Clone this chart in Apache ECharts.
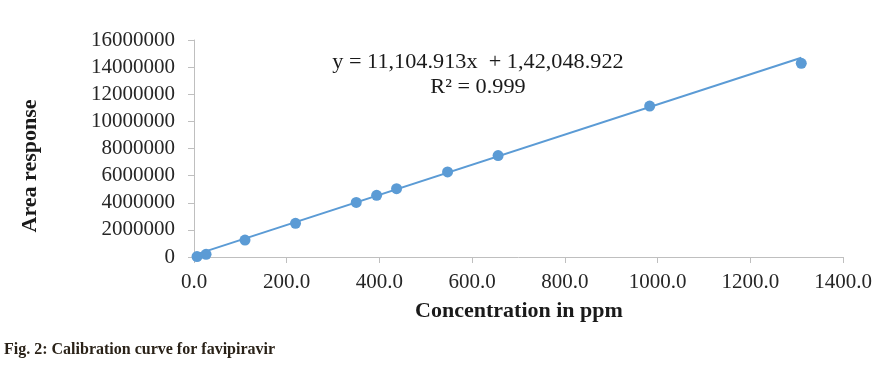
<!DOCTYPE html>
<html>
<head>
<meta charset="utf-8">
<script src="https://cdn.jsdelivr.net/npm/echarts@6/dist/echarts.min.js"></script>
<style>html,body{margin:0;padding:0;background:#fff}#c{width:881px;height:365px}</style>
</head>
<body>
<div id="c"></div>
<script>
// Data
var concentration = [6.5, 26, 110, 219, 350, 394, 437, 547, 656, 983, 1310];
var areaResponse = [30000, 200000, 1250000, 2480000, 4020000, 4550000, 5040000, 6270000, 7480000, 11130000, 14280000];
var xTicks = [0, 200, 400, 600, 800, 1000, 1200, 1400];
var yTicks = [0, 2000000, 4000000, 6000000, 8000000, 10000000, 12000000, 14000000, 16000000];
var slope = 11104.913;
var intercept = 142048.922;
var equationText = 'y = 11,104.913x  + 1,42,048.922';
var r2Text = 'R\u00B2 = 0.999';
var xTitle = 'Concentration in ppm';
var yTitle = 'Area response';
var caption = 'Fig. 2: Calibration curve for favipiravir';

var points = concentration.map(function (x, i) { return [x, areaResponse[i]]; });
var xMin = Math.min.apply(null, concentration), xMax = Math.max.apply(null, concentration);
var trend = [[xMin, slope * xMin + intercept], [xMax, slope * xMax + intercept]];

var serif = '"Liberation Serif", "Times New Roman", serif';
var chart = echarts.init(document.getElementById('c'), null, {renderer: 'canvas'});
chart.setOption({
  animation: false,
  backgroundColor: '#fff',
  grid: {left: 194, right: 38, top: 40, bottom: 108, containLabel: false},
  xAxis: {
    type: 'value', min: xTicks[0], max: xTicks[xTicks.length - 1], interval: 200,
    axisLine: {show: true, lineStyle: {color: '#bfbfbf', width: 1}},
    axisTick: {show: true, inside: false, length: 6, lineStyle: {color: '#bfbfbf'}},
    splitLine: {show: false},
    axisLabel: {fontFamily: serif, fontSize: 21, color: '#262626', margin: 15,
      formatter: function (v) { return v.toFixed(1); }}
  },
  yAxis: {
    type: 'value', min: yTicks[0], max: yTicks[yTicks.length - 1], interval: 2000000,
    axisLine: {show: true, lineStyle: {color: '#bfbfbf', width: 1}},
    axisTick: {show: true, inside: false, length: 6, lineStyle: {color: '#bfbfbf'}},
    splitLine: {show: false},
    axisLabel: {fontFamily: serif, fontSize: 21, color: '#262626', margin: 19,
      formatter: function (v) { return String(v); }}
  },
  series: [
    {type: 'line', data: trend, showSymbol: false, symbol: 'none', silent: true,
      lineStyle: {color: '#5b9bd5', width: 2}, z: 2},
    {type: 'scatter', data: points, symbol: 'circle', symbolSize: 11,
      itemStyle: {color: '#5b9bd5', opacity: 1}, z: 3}
  ],
  graphic: [
    {type: 'text', x: 478, y: 62, scaleX: 1.06, style: {text: equationText, font: '21px ' + serif, fill: '#1a1a1a', textAlign: 'center', textVerticalAlign: 'middle'}},
    {type: 'text', x: 478, y: 87, scaleX: 1.06, style: {text: r2Text, font: '21px ' + serif, fill: '#1a1a1a', textAlign: 'center', textVerticalAlign: 'middle'}},
    {type: 'text', x: 519, y: 311, style: {text: xTitle, font: 'bold 22px ' + serif, fill: '#1a1a1a', textAlign: 'center', textVerticalAlign: 'middle'}},
    {type: 'text', x: 30, y: 166, rotation: Math.PI / 2, style: {text: yTitle, font: 'bold 22px ' + serif, fill: '#1a1a1a', textAlign: 'center', textVerticalAlign: 'middle'}},
    {type: 'text', x: 4, y: 350, style: {text: caption, font: 'bold 16px ' + serif, fill: '#2a2218', textAlign: 'left', textVerticalAlign: 'middle'}}
  ]
});
</script>
</body>
</html>
